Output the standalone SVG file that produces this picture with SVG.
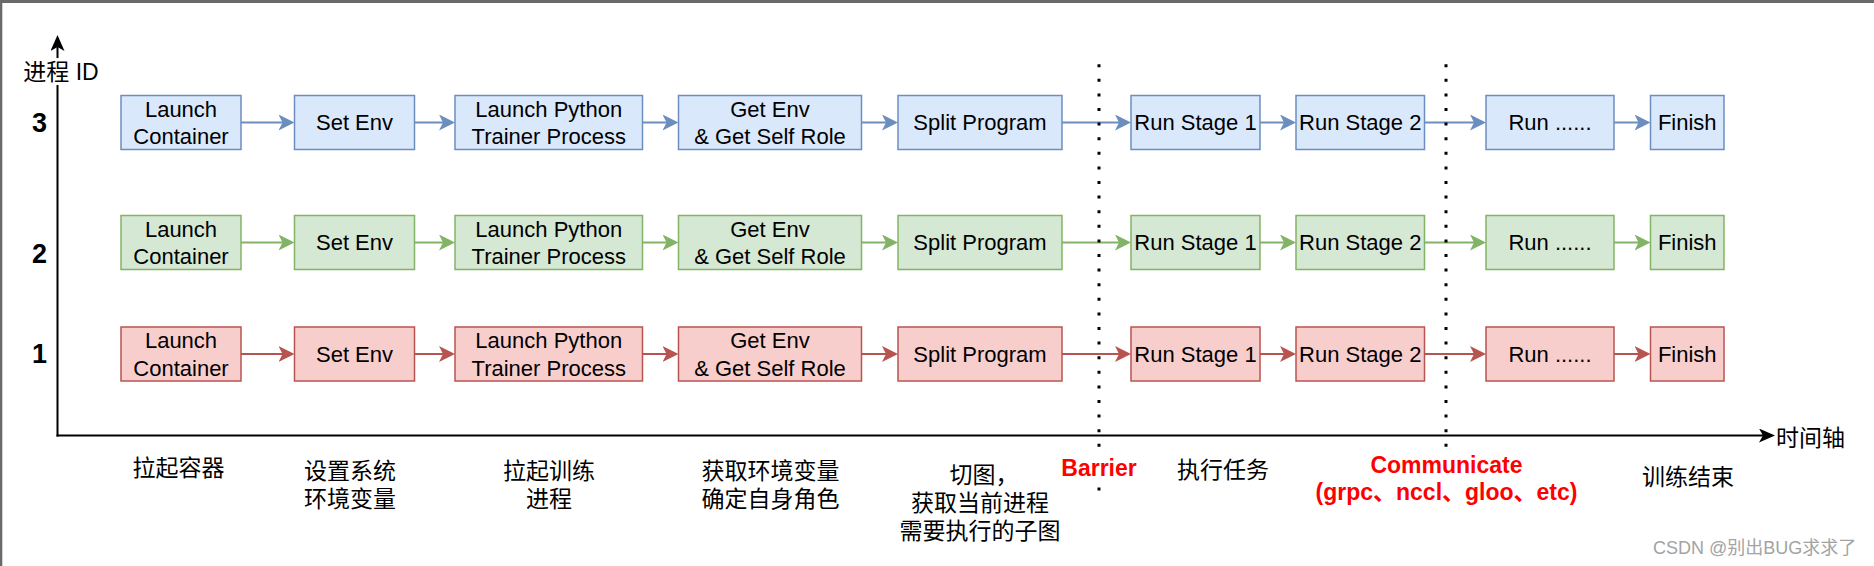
<svg xmlns="http://www.w3.org/2000/svg" width="1874" height="566" viewBox="0 0 1874 566">
<style>
  .bx{stroke-width:1.5}
  .b{fill:#dae8fc;stroke:#6c8ebf}
  .g{fill:#d5e8d4;stroke:#82b366}
  .r{fill:#f8cecc;stroke:#b85450}
  .t{font-family:"Liberation Sans",Arial,"Noto Sans CJK SC",sans-serif;font-size:22px;fill:#000;text-anchor:middle}
  .cb{stroke:#6c8ebf;stroke-width:2;fill:none}
  .cg{stroke:#82b366;stroke-width:2;fill:none}
  .cr{stroke:#b85450;stroke-width:2;fill:none}
  .ax{stroke:#000;stroke-width:2;fill:none}
  .dot{stroke:#000;stroke-width:3;stroke-dasharray:3 11.6;fill:none}
  .num{font-family:"Liberation Sans",Arial,sans-serif;font-size:27px;font-weight:bold;fill:#000}
  .cn{font-family:"Liberation Sans","Noto Sans CJK SC",sans-serif;font-size:23px;fill:#000;text-anchor:middle}
  .red{font-family:"Liberation Sans","Noto Sans CJK SC",sans-serif;font-size:23px;font-weight:bold;fill:#ff0000;text-anchor:middle}
  .wm{font-family:"Liberation Sans","Noto Sans CJK SC",sans-serif;font-size:18px;fill:#a3a3a3}
</style>
<defs>
  <marker id="mb" markerUnits="userSpaceOnUse" markerWidth="16" markerHeight="16" viewBox="0 0 16 16" refX="12" refY="8" orient="auto"><path d="M0,0 L16,8 L0,16 L4,8 Z" fill="#6c8ebf"/></marker>
  <marker id="mg" markerUnits="userSpaceOnUse" markerWidth="16" markerHeight="16" viewBox="0 0 16 16" refX="12" refY="8" orient="auto"><path d="M0,0 L16,8 L0,16 L4,8 Z" fill="#82b366"/></marker>
  <marker id="mr" markerUnits="userSpaceOnUse" markerWidth="16" markerHeight="16" viewBox="0 0 16 16" refX="12" refY="8" orient="auto"><path d="M0,0 L16,8 L0,16 L4,8 Z" fill="#b85450"/></marker>
  <marker id="mk" markerUnits="userSpaceOnUse" markerWidth="16" markerHeight="14" viewBox="0 0 16 14" refX="12" refY="7" orient="auto"><path d="M0,0 L16,7 L0,14 L4,7 Z" fill="#000"/></marker>
</defs>
<rect x="0" y="0" width="1874" height="566" fill="#fff"/>
<rect x="0" y="0" width="1874" height="3" fill="#6a6a6a"/>
<rect x="0" y="0" width="2.3" height="566" fill="#6a6a6a"/>

<g id="axes">
  <line class="ax" x1="57.5" y1="436.5" x2="57.5" y2="39" marker-end="url(#mk)"/>
  <line class="ax" x1="56.5" y1="435.5" x2="1771" y2="435.5" marker-end="url(#mk)"/>
</g>

<g id="connectors">
  <line class="cb" x1="241" y1="122.5" x2="290.5" y2="122.5" marker-end="url(#mb)"/>
  <line class="cb" x1="414.5" y1="122.5" x2="451" y2="122.5" marker-end="url(#mb)"/>
  <line class="cb" x1="642.5" y1="122.5" x2="674.5" y2="122.5" marker-end="url(#mb)"/>
  <line class="cb" x1="861.5" y1="122.5" x2="894" y2="122.5" marker-end="url(#mb)"/>
  <line class="cb" x1="1062" y1="122.5" x2="1127" y2="122.5" marker-end="url(#mb)"/>
  <line class="cb" x1="1260" y1="122.5" x2="1292" y2="122.5" marker-end="url(#mb)"/>
  <line class="cb" x1="1424.5" y1="122.5" x2="1482" y2="122.5" marker-end="url(#mb)"/>
  <line class="cb" x1="1614" y1="122.5" x2="1646.5" y2="122.5" marker-end="url(#mb)"/>

  <line class="cg" x1="241" y1="242.5" x2="290.5" y2="242.5" marker-end="url(#mg)"/>
  <line class="cg" x1="414.5" y1="242.5" x2="451" y2="242.5" marker-end="url(#mg)"/>
  <line class="cg" x1="642.5" y1="242.5" x2="674.5" y2="242.5" marker-end="url(#mg)"/>
  <line class="cg" x1="861.5" y1="242.5" x2="894" y2="242.5" marker-end="url(#mg)"/>
  <line class="cg" x1="1062" y1="242.5" x2="1127" y2="242.5" marker-end="url(#mg)"/>
  <line class="cg" x1="1260" y1="242.5" x2="1292" y2="242.5" marker-end="url(#mg)"/>
  <line class="cg" x1="1424.5" y1="242.5" x2="1482" y2="242.5" marker-end="url(#mg)"/>
  <line class="cg" x1="1614" y1="242.5" x2="1646.5" y2="242.5" marker-end="url(#mg)"/>

  <line class="cr" x1="241" y1="354" x2="290.5" y2="354" marker-end="url(#mr)"/>
  <line class="cr" x1="414.5" y1="354" x2="451" y2="354" marker-end="url(#mr)"/>
  <line class="cr" x1="642.5" y1="354" x2="674.5" y2="354" marker-end="url(#mr)"/>
  <line class="cr" x1="861.5" y1="354" x2="894" y2="354" marker-end="url(#mr)"/>
  <line class="cr" x1="1062" y1="354" x2="1127" y2="354" marker-end="url(#mr)"/>
  <line class="cr" x1="1260" y1="354" x2="1292" y2="354" marker-end="url(#mr)"/>
  <line class="cr" x1="1424.5" y1="354" x2="1482" y2="354" marker-end="url(#mr)"/>
  <line class="cr" x1="1614" y1="354" x2="1646.5" y2="354" marker-end="url(#mr)"/>
</g>

<!-- Row 3 (blue) -->
<g id="p3-launch"><rect class="bx b" x="121" y="95.5" width="120" height="54"/><text class="t" x="181" y="116.5">Launch</text><text class="t" x="181" y="144">Container</text></g>
<g id="p3-setenv"><rect class="bx b" x="294.5" y="95.5" width="120" height="54"/><text class="t" x="354.5" y="130">Set Env</text></g>
<g id="p3-trainer"><rect class="bx b" x="455" y="95.5" width="187.5" height="54"/><text class="t" x="548.75" y="116.5">Launch Python</text><text class="t" x="548.75" y="144">Trainer Process</text></g>
<g id="p3-getenv"><rect class="bx b" x="678.5" y="95.5" width="183" height="54"/><text class="t" x="770" y="116.5">Get Env</text><text class="t" x="770" y="144">&amp; Get Self Role</text></g>
<g id="p3-split"><rect class="bx b" x="898" y="95.5" width="164" height="54"/><text class="t" x="980" y="130">Split Program</text></g>
<g id="p3-stage1"><rect class="bx b" x="1131" y="95.5" width="129" height="54"/><text class="t" x="1195.5" y="130">Run Stage 1</text></g>
<g id="p3-stage2"><rect class="bx b" x="1296" y="95.5" width="128.5" height="54"/><text class="t" x="1360.25" y="130">Run Stage 2</text></g>
<g id="p3-run"><rect class="bx b" x="1486" y="95.5" width="128" height="54"/><text class="t" x="1550" y="130">Run ......</text></g>
<g id="p3-finish"><rect class="bx b" x="1650.5" y="95.5" width="73.5" height="54"/><text class="t" x="1687.25" y="130">Finish</text></g>

<!-- Row 2 (green) -->
<g id="p2-launch"><rect class="bx g" x="121" y="215.5" width="120" height="54"/><text class="t" x="181" y="236.5">Launch</text><text class="t" x="181" y="264">Container</text></g>
<g id="p2-setenv"><rect class="bx g" x="294.5" y="215.5" width="120" height="54"/><text class="t" x="354.5" y="250">Set Env</text></g>
<g id="p2-trainer"><rect class="bx g" x="455" y="215.5" width="187.5" height="54"/><text class="t" x="548.75" y="236.5">Launch Python</text><text class="t" x="548.75" y="264">Trainer Process</text></g>
<g id="p2-getenv"><rect class="bx g" x="678.5" y="215.5" width="183" height="54"/><text class="t" x="770" y="236.5">Get Env</text><text class="t" x="770" y="264">&amp; Get Self Role</text></g>
<g id="p2-split"><rect class="bx g" x="898" y="215.5" width="164" height="54"/><text class="t" x="980" y="250">Split Program</text></g>
<g id="p2-stage1"><rect class="bx g" x="1131" y="215.5" width="129" height="54"/><text class="t" x="1195.5" y="250">Run Stage 1</text></g>
<g id="p2-stage2"><rect class="bx g" x="1296" y="215.5" width="128.5" height="54"/><text class="t" x="1360.25" y="250">Run Stage 2</text></g>
<g id="p2-run"><rect class="bx g" x="1486" y="215.5" width="128" height="54"/><text class="t" x="1550" y="250">Run ......</text></g>
<g id="p2-finish"><rect class="bx g" x="1650.5" y="215.5" width="73.5" height="54"/><text class="t" x="1687.25" y="250">Finish</text></g>

<!-- Row 1 (red) -->
<g id="p1-launch"><rect class="bx r" x="121" y="327" width="120" height="54"/><text class="t" x="181" y="348">Launch</text><text class="t" x="181" y="375.5">Container</text></g>
<g id="p1-setenv"><rect class="bx r" x="294.5" y="327" width="120" height="54"/><text class="t" x="354.5" y="361.5">Set Env</text></g>
<g id="p1-trainer"><rect class="bx r" x="455" y="327" width="187.5" height="54"/><text class="t" x="548.75" y="348">Launch Python</text><text class="t" x="548.75" y="375.5">Trainer Process</text></g>
<g id="p1-getenv"><rect class="bx r" x="678.5" y="327" width="183" height="54"/><text class="t" x="770" y="348">Get Env</text><text class="t" x="770" y="375.5">&amp; Get Self Role</text></g>
<g id="p1-split"><rect class="bx r" x="898" y="327" width="164" height="54"/><text class="t" x="980" y="361.5">Split Program</text></g>
<g id="p1-stage1"><rect class="bx r" x="1131" y="327" width="129" height="54"/><text class="t" x="1195.5" y="361.5">Run Stage 1</text></g>
<g id="p1-stage2"><rect class="bx r" x="1296" y="327" width="128.5" height="54"/><text class="t" x="1360.25" y="361.5">Run Stage 2</text></g>
<g id="p1-run"><rect class="bx r" x="1486" y="327" width="128" height="54"/><text class="t" x="1550" y="361.5">Run ......</text></g>
<g id="p1-finish"><rect class="bx r" x="1650.5" y="327" width="73.5" height="54"/><text class="t" x="1687.25" y="361.5">Finish</text></g>

<g id="dividers">
  <line class="dot" x1="1099" y1="64.2" x2="1099" y2="491"/>
  <line class="dot" x1="1446" y1="64.2" x2="1446" y2="447"/>
</g>

<g id="label-yaxis"><rect x="22" y="58" width="78" height="27" fill="#fff"/><text class="cn" x="61" y="80">进程 ID</text></g>
<g id="label-rows">
  <text class="num" x="32" y="131.5">3</text>
  <text class="num" x="32" y="263">2</text>
  <text class="num" x="32" y="363">1</text>
</g>
<g id="label-xaxis"><text class="cn" x="1776" y="445.5" style="text-anchor:start">时间轴</text></g>

<g id="label-launch"><text class="cn" x="178.5" y="476">拉起容器</text></g>
<g id="label-setenv"><text class="cn" x="350" y="479">设置系统</text><text class="cn" x="350" y="507">环境变量</text></g>
<g id="label-trainer"><text class="cn" x="549" y="479">拉起训练</text><text class="cn" x="549" y="507">进程</text></g>
<g id="label-getenv"><text class="cn" x="770.5" y="479">获取环境变量</text><text class="cn" x="770.5" y="507">确定自身角色</text></g>
<g id="label-split"><text class="cn" x="984" y="483">切图，</text><text class="cn" x="980" y="511">获取当前进程</text><text class="cn" x="980" y="539">需要执行的子图</text></g>
<g id="label-barrier"><rect x="1058" y="452" width="82" height="30" fill="#fff"/><text class="red" x="1099" y="475.5">Barrier</text></g>
<g id="label-run"><text class="cn" x="1223" y="477.5">执行任务</text></g>
<g id="label-comm"><text class="red" x="1446.5" y="472.5">Communicate</text><text class="red" x="1446.5" y="500">(grpc、nccl、gloo、etc)</text></g>
<g id="label-finish"><text class="cn" x="1688" y="484.5">训练结束</text></g>
<text class="wm" x="1653" y="554">CSDN @别出BUG求求了</text>
</svg>
